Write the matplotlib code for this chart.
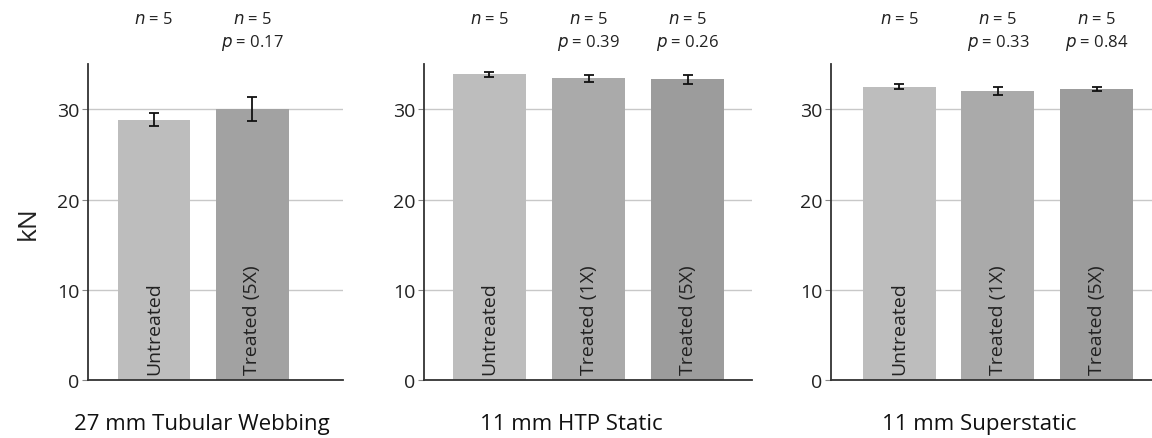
import matplotlib.pyplot as plt

plt.rcParams['font.family'] = ['Open Sans', 'DejaVu Sans']

titles = ['27 mm Tubular Webbing', '11 mm HTP Static', '11 mm Superstatic']
labels = [['Untreated', 'Treated (5X)'],
          ['Untreated', 'Treated (1X)', 'Treated (5X)'],
          ['Untreated', 'Treated (1X)', 'Treated (5X)']]
means = [[28.85, 30.05], [33.85, 33.4, 33.3], [32.5, 32.0, 32.2]]
errs = [[0.7, 1.35], [0.3, 0.4, 0.5], [0.3, 0.4, 0.2]]
ns = [[5, 5], [5, 5, 5], [5, 5, 5]]
pvals = [[None, '0.17'], [None, '0.39', '0.26'], [None, '0.33', '0.84']]
colors = [['#bdbdbd', '#a2a2a2'],
          ['#bdbdbd', '#aaaaaa', '#9c9c9c'],
          ['#bdbdbd', '#aaaaaa', '#9c9c9c']]

# axes boxes in figure fraction, x-limits and title x (data units) per panel
boxes = [(0.0764, 0.2213), (0.368, 0.285), (0.7214, 0.2786)]
xlims = [(-0.67, 1.92), (-0.66, 2.65), (-0.69, 2.56)]
title_x = [0.49, 0.83, 0.81]

fig = plt.figure(figsize=(11.52, 4.39), dpi=100)
for k in range(3):
    ax = fig.add_axes([boxes[k][0], 0.131, boxes[k][1], 0.721])
    x = list(range(len(means[k])))
    ax.bar(x, means[k], width=0.74, color=colors[k], zorder=2)
    ax.errorbar(x, means[k], yerr=errs[k], fmt='none', ecolor='#111111',
                elinewidth=1.3, capsize=3.5, capthick=1.3, zorder=3)
    ax.set_ylim(0, 35)
    ax.set_xlim(*xlims[k])
    ax.set_yticks([0, 10, 20, 30])
    ax.yaxis.grid(True, color='#c8c8c8', linewidth=1, zorder=0)
    ax.set_axisbelow(True)
    ax.set_xticks([])
    for s in ['top', 'right']:
        ax.spines[s].set_visible(False)
    for s in ['left', 'bottom']:
        ax.spines[s].set_color('#333333')
        ax.spines[s].set_linewidth(1.3)
    ax.tick_params(axis='y', labelsize=14, length=4, color='#888888',
                   labelcolor='#222222', pad=2)
    xt = ax.get_xaxis_transform()
    for i in x:
        ax.text(i, 0.7, labels[k][i], rotation=90, ha='center', va='bottom',
                fontsize=14, color='#222222', zorder=4)
        ax.text(i, 1.142, '$n$ = %d' % ns[k][i], ha='center', va='center',
                fontsize=12, color='#222222', transform=xt)
        if pvals[k][i]:
            ax.text(i, 1.07, '$p$ = ' + pvals[k][i], ha='center', va='center',
                    fontsize=12, color='#222222', transform=xt)
    ax.text(title_x[k], -0.137, titles[k], ha='center', va='center',
            fontsize=16, color='#111111', transform=xt)
    if k == 0:
        ax.set_ylabel('kN', fontsize=19, color='#222222', labelpad=12)

fig.savefig('out.png', dpi=100)
